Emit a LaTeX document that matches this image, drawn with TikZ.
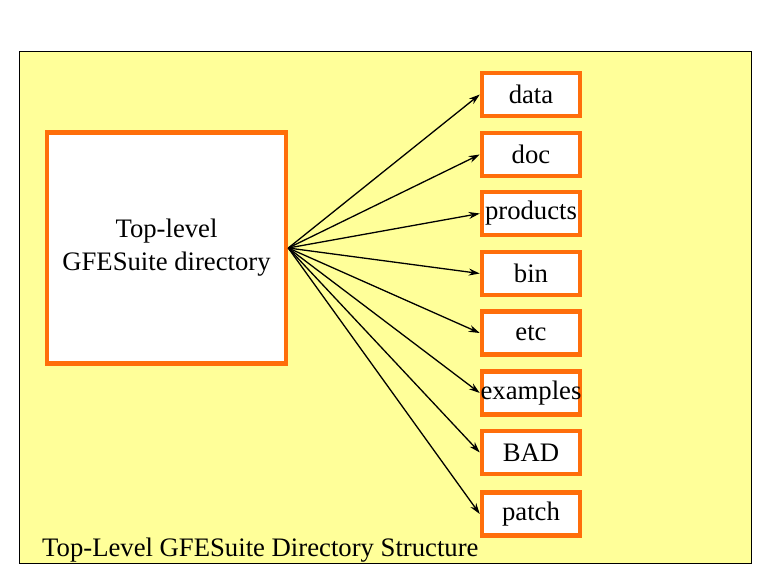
\documentclass[tikz,border=0pt]{standalone}
\usepackage{fontspec}
\setmainfont{Liberation Serif}
\usetikzlibrary{arrows.meta}
\definecolor{pale}{RGB}{255,255,153}
\definecolor{rim}{RGB}{255,110,10}
\tikzset{
  dirbox/.style={draw=rim,line width=4.5pt,fill=white,minimum width=98pt,minimum height=43pt,inner sep=0pt,font=\fontsize{26.7}{31}\selectfont},
  link/.style={draw=black,line width=1.3pt,-{Stealth[length=11pt,width=7pt]}}
}

\begin{document}
\begin{tikzpicture}[x=1pt,y=-1pt]
           \useasboundingbox (0,0) rectangle (768,576);
           \fill[white] (0,0) rectangle (768,576);
           \draw[draw=black,fill=pale,line width=1pt] (19.5,51.5) rectangle (751.5,563.5);
           \node[draw=rim,line width=4.5pt,fill=white,minimum width=239pt,minimum height=231pt,inner sep=0pt,align=center,font=\fontsize{26.7}{33}\selectfont] (top) at (166.5,248) {Top-level\\GFESuite directory};
           \node[dirbox] (data) at (531,94.5) {data};
           \node[dirbox] (doc) at (531,154.5) {doc};
           \node[dirbox] (products) at (531,213.5) {products};
           \node[dirbox] (bin) at (531,273.5) {bin};
           \node[dirbox] (etc) at (531,333) {etc};
           \node[dirbox] (examples) at (531,393) {\makebox[0pt]{examples}};
           \node[dirbox] (bad) at (531,452.5) {BAD};
           \node[dirbox] (patch) at (531,514) {patch};
           \foreach \d in {data,doc,products,bin,etc,examples,bad,patch}
             \draw[link] (top.east) -- (\d.west);
           \node[anchor=west,inner sep=0pt,font=\fontsize{26.7}{31}\selectfont] (caption) at (42,550) {Top-Level GFESuite Directory Structure};
        \end{tikzpicture}
\end{document}
